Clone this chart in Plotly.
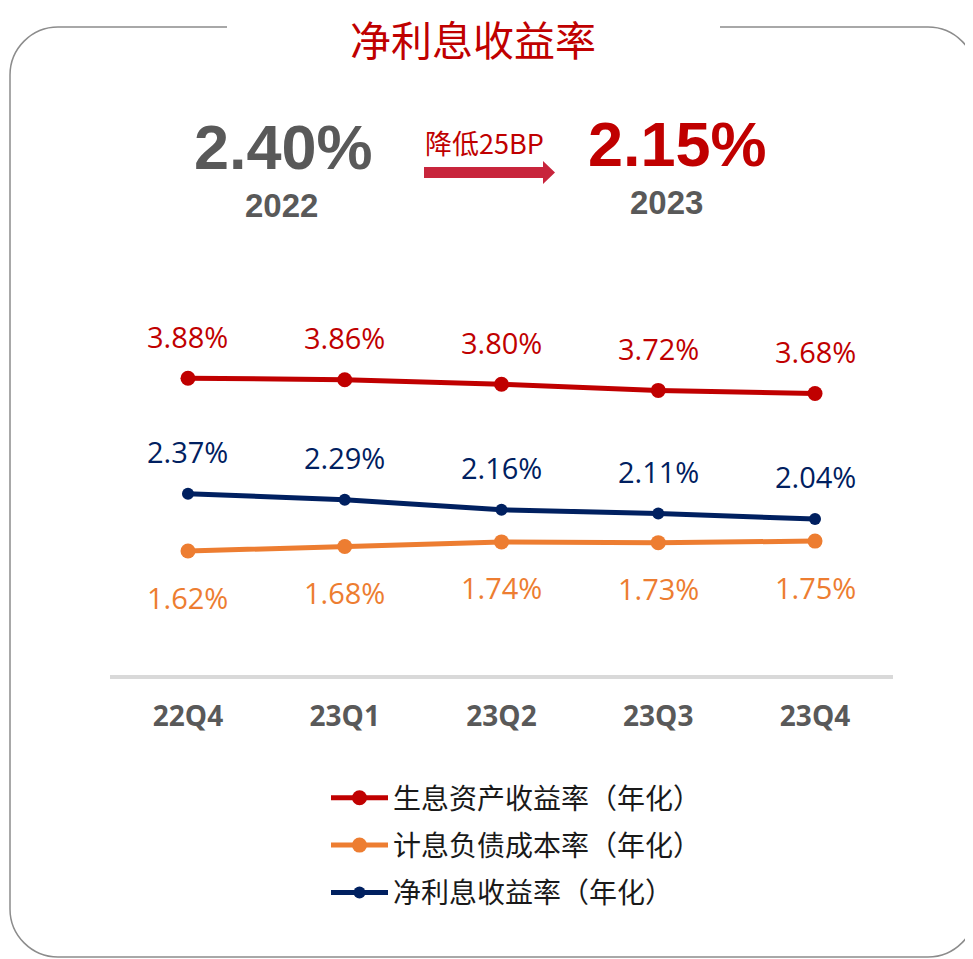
import plotly.graph_objects as go

# ---------------- data ----------------
quarters = ["22Q4", "23Q1", "23Q2", "23Q3", "23Q4"]
asset_yield = [3.88, 3.86, 3.80, 3.72, 3.68]      # 生息资产收益率（年化）
liab_cost = [1.62, 1.68, 1.74, 1.73, 1.75]        # 计息负债成本率（年化）
nim = [2.37, 2.29, 2.16, 2.11, 2.04]              # 净利息收益率（年化）
series_names = ["生息资产收益率（年化）", "计息负债成本率（年化）", "净利息收益率（年化）"]
nim_2022 = "2.40%"
nim_2023 = "2.15%"
year_2022 = "2022"
year_2023 = "2023"
change_text = "降低25BP"
title_text = "净利息收益率"

# ---------------- styles ----------------
OFF = 8                      # default page body margin
W, H = 973 - OFF, 959 - OFF
RED = "#C00000"
ORANGE = "#ED7D31"
NAVY = "#002060"
GRAY = "#595959"
CJK = "Noto Sans CJK SC"
NUM = "Open Sans, Noto Sans, sans-serif"


def px(x):
    return (x - OFF) / W


def py(y):
    return 1 - (y - OFF) / H


fig = go.Figure()

series = [
    (asset_yield, RED, 15, 42),
    (liab_cost, ORANGE, 15, -46),
    (nim, NAVY, 12, 42),
]

for (vals, color, msize, shift), name in zip(series, series_names):
    fig.add_trace(go.Scatter(
        x=quarters, y=vals, name=name, mode="lines+markers",
        line=dict(color=color, width=5),
        marker=dict(color=color, size=msize),
        legendgroup=name, hoverinfo="skip",
    ))

annotations = []
for vals, color, msize, shift in series:
    for q, v in zip(quarters, vals):
        annotations.append(dict(
            x=q, y=v, xref="x", yref="y", text=f"{v:.2f}%", showarrow=False,
            yshift=shift, font=dict(family=NUM, size=29, color=color),
            xanchor="center", yanchor="middle",
        ))

# title and headline figures
annotations += [
    dict(x=px(473), y=py(38), xref="paper", yref="paper", text=title_text, showarrow=False,
         font=dict(family=CJK, size=41, color=RED), xanchor="center", yanchor="middle",
         borderpad=0),
    dict(x=px(283), y=py(147), xref="paper", yref="paper", text=f"<b>{nim_2022}</b>", showarrow=False,
         font=dict(family="Liberation Sans, Arial", size=63, color=GRAY), xanchor="center", yanchor="middle"),
    dict(x=px(281), y=py(205), xref="paper", yref="paper", text=f"<b>{year_2022}</b>", showarrow=False,
         font=dict(family="Liberation Sans, Arial", size=33, color=GRAY), xanchor="center", yanchor="middle"),
    dict(x=px(677), y=py(144), xref="paper", yref="paper", text=f"<b>{nim_2023}</b>", showarrow=False,
         font=dict(family="Liberation Sans, Arial", size=63, color=RED), xanchor="center", yanchor="middle"),
    dict(x=px(666), y=py(202), xref="paper", yref="paper", text=f"<b>{year_2023}</b>", showarrow=False,
         font=dict(family="Liberation Sans, Arial", size=33, color=GRAY), xanchor="center", yanchor="middle"),
    dict(x=px(484), y=py(142), xref="paper", yref="paper", text=change_text, showarrow=False,
         font=dict(family=CJK, size=27, color=RED), xanchor="center", yanchor="middle"),
]


def path_from(cmds):
    return " ".join(cmds)


# rounded border with gap for the title
L, T, R, B, RAD = 10, 27, 976, 957, 48
border = path_from([
    f"M{px(227)},{py(T)}",
    f"L{px(L + RAD)},{py(T)}",
    f"C{px(L + RAD * 0.45)},{py(T)} {px(L)},{py(T + RAD * 0.45)} {px(L)},{py(T + RAD)}",
    f"L{px(L)},{py(B - RAD)}",
    f"C{px(L)},{py(B - RAD * 0.45)} {px(L + RAD * 0.45)},{py(B)} {px(L + RAD)},{py(B)}",
    f"L{px(R - RAD)},{py(B)}",
    f"C{px(R - RAD * 0.45)},{py(B)} {px(R)},{py(B - RAD * 0.45)} {px(R)},{py(B - RAD)}",
    f"L{px(R)},{py(T + RAD)}",
    f"C{px(R)},{py(T + RAD * 0.45)} {px(R - RAD * 0.45)},{py(T)} {px(R - RAD)},{py(T)}",
    f"L{px(720)},{py(T)}",
])

arrow = path_from([
    f"M{px(424)},{py(167)}",
    f"L{px(543)},{py(167)}",
    f"L{px(543)},{py(161)}",
    f"L{px(555)},{py(172.5)}",
    f"L{px(543)},{py(184)}",
    f"L{px(543)},{py(178)}",
    f"L{px(424)},{py(178)}",
    "Z",
])

shapes = [
    dict(type="path", path=border, xref="paper", yref="paper",
         line=dict(color="#8C8C8C", width=1.5), layer="below"),
    dict(type="path", path=arrow, xref="paper", yref="paper",
         line=dict(width=0), fillcolor="#C8253C"),
]

# plot area geometry (pixels)
x_left, x_right = 109.6, 893.4
y_zero, px_per_unit = 675.0, 76.5
y_top_val = 5.0
y_top_px = y_zero - y_top_val * px_per_unit

fig.update_layout(
    width=W, height=H,
    margin=dict(l=0, r=0, t=0, b=0),
    paper_bgcolor="white", plot_bgcolor="white",
    showlegend=True,
    legend=dict(
        x=px(326), y=py(773), xanchor="left", yanchor="top",
        font=dict(family=CJK, size=28, color="#1A1A1A"),
        tracegroupgap=8, traceorder="grouped", itemwidth=57,
        bgcolor="rgba(0,0,0,0)",
    ),
    xaxis=dict(
        domain=[px(x_left), px(x_right)],
        type="category", categoryorder="array", categoryarray=quarters,
        range=[-0.5, len(quarters) - 0.5],
        showline=True, linecolor="#D9D9D9", linewidth=4,
        showgrid=False, zeroline=False, ticks="",
        tickfont=dict(family=NUM, size=28, color=GRAY, weight="bold"),
        ticklabelstandoff=13, fixedrange=True,
    ),
    yaxis=dict(
        domain=[py(y_zero), py(y_top_px)],
        range=[0, y_top_val], visible=False, fixedrange=True,
    ),
    annotations=annotations,
    shapes=shapes,
)

fig.write_html("out.html")
